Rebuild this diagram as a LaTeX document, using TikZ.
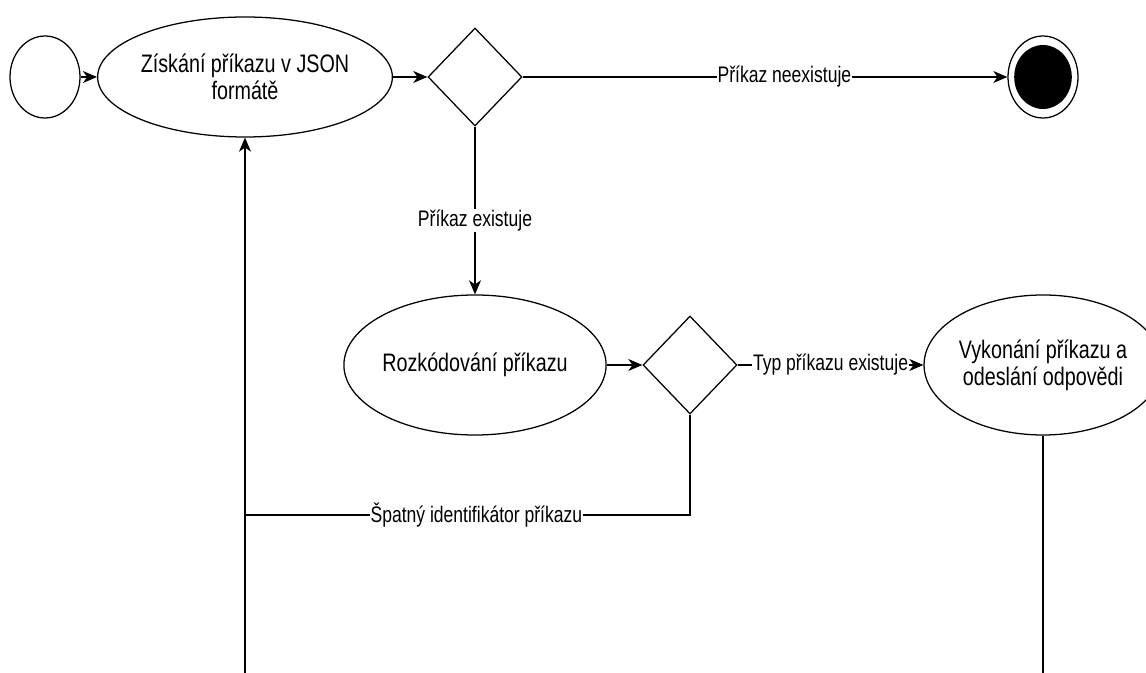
\documentclass[tikz,border=0pt]{standalone}
\usepackage{fontspec}
\setmainfont[FakeStretch=0.78]{Liberation Sans}
\usetikzlibrary{shapes.geometric}
\usetikzlibrary{arrows.meta}

\begin{document}
\begin{tikzpicture}
	\tikzset{state/.style={ellipse,draw,line width=0.9pt,align=center,inner sep=0pt,font=\fontsize{18}{19}\selectfont},
		choice/.style={diamond,draw,line width=0.9pt,minimum width=2.35cm,minimum height=2.45cm,inner sep=0pt},
		flow/.style={line width=1pt,-{Stealth[length=10pt,width=8.5pt,inset=3pt]}},
		lbl/.style={fill=white,inner sep=0.5pt,font=\fontsize{16}{17}\selectfont}};
	\useasboundingbox (0,0) rectangle (28.65,16.825);
	\node[state,minimum width=1.75cm,minimum height=2.05cm] (start) at (1.125,14.9) {};
	\node[state,minimum width=5.85cm,minimum height=3cm] (get) at (6.125,14.9) {Získání příkazu v JSON\\formátě};
	\node[choice] (dec1) at (11.875,14.9) {};
	\node[state,minimum width=1.75cm,minimum height=2.05cm] (end) at (26.075,14.9) {};
	\fill (end.center) ellipse (0.72 and 0.8);
	\node[state,minimum width=5cm,minimum height=3.5cm] (decode) at (11.875,7.7) {Rozkódování příkazu};
	\node[state,minimum width=5cm,minimum height=3.5cm] (exec) at (26.075,7.7) {Vykonání příkazu a\\odeslání odpovědi};
	\node[choice] (dec2) at (17.25,7.7) {};
	\coordinate (loopin) at (6.125,0);
	\coordinate (join) at (6.125,3.95);
	\coordinate (out) at (26.075,0);
	\draw[flow] (start) -- (get);
	\draw[flow] (get) -- (dec1);
	\draw[flow] (dec1) -- node[lbl,pos=0.54]{Příkaz neexistuje} (end);
	\draw[flow] (dec1) -- node[lbl,pos=0.56]{Příkaz existuje} (decode);
	\draw[flow] (decode) -- (dec2);
	\draw[flow] (dec2) -- node[lbl]{Typ příkazu existuje} (exec);
	\draw[flow] (loopin) -- (get);
	\draw[line width=1pt] (dec2) |- node[lbl,pos=0.74]{Špatný identifikátor příkazu} (join);
	\draw[line width=1pt] (exec) -- (out);
\end{tikzpicture}
\end{document}
